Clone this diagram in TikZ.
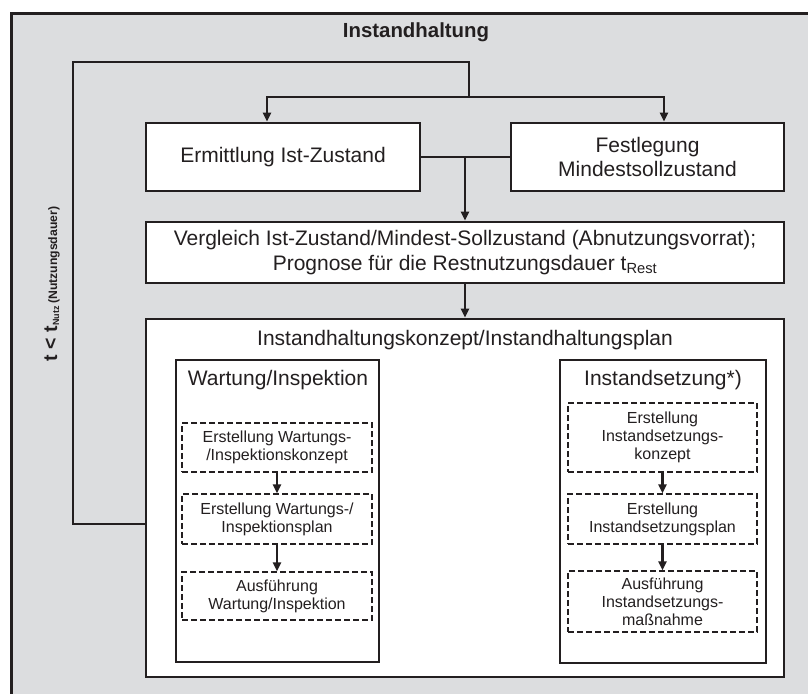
\documentclass[tikz,border=0pt]{standalone}
\usepackage{fontspec}
\setmainfont{Liberation Sans}
\usetikzlibrary{arrows.meta,calc}
\definecolor{bg}{RGB}{220,221,223}
\definecolor{ink}{RGB}{35,31,32}
\begin{document}
\begin{tikzpicture}[x=1pt,y=-1pt,
  box/.style={draw=ink,line width=2.8pt,fill=white,inner sep=0pt,align=center,text=ink,font=\fontsize{21}{24.5}\selectfont},
  dbox/.style={draw=ink,line width=1.4pt,dash pattern=on 6pt off 3pt,fill=white,inner sep=0pt,align=center,text=ink,font=\fontsize{16}{18}\selectfont},
  ttl/.style={text=ink,inner sep=0pt,font=\fontsize{21}{24.5}\selectfont},
  conn/.style={draw=ink,line width=2.8pt},
  arr/.style={conn,-{Triangle[length=9pt,width=8pt]}},
]
\useasboundingbox (0,0) rectangle (808,693);
\begin{scope}
  \clip (0,0) rectangle (808,693);
  \node[draw=ink,line width=2.8pt,fill=bg,anchor=north west,minimum width=840pt,minimum height=720pt,inner sep=0pt] (frame) at (10,12) {};
\end{scope}

\node[text=ink,inner sep=0pt,font=\bfseries\fontsize{20.4}{24}\selectfont] (title) at (416,32) {Instandhaltung};

\node[box,minimum width=274pt,minimum height=68pt] (ist) at (283,157) {Ermittlung Ist-Zustand};
\node[box,minimum width=273pt,minimum height=68pt] (soll) at (647.5,157) {Festlegung\\Mindestsollzustand};
\node[box,minimum width=638pt,minimum height=61pt] (vgl) at (465,252.5) {Vergleich Ist-Zustand/Mindest-Sollzustand (Abnutzungsvorrat);\\Prognose für die Restnutzungsdauer t\textsubscript{Rest}};

\node[box,minimum width=638pt,minimum height=358pt] (konzept) at (465,498) {};
\node[ttl] (konzepttitle) at (465,340) {Instandhaltungskonzept/Instandhaltungsplan};

\node[box,minimum width=203pt,minimum height=302pt] (wart) at (277.5,511) {};
\node[ttl] (warttitle) at (278,380) {Wartung/Inspektion};
\node[box,minimum width=206pt,minimum height=303pt] (inst) at (663,511.5) {};
\node[ttl] (insttitle) at (663,380) {Instandsetzung*)};

\node[dbox,minimum width=190pt,minimum height=49pt] (w1) at (277,447.5) {Erstellung Wartungs-\\/Inspektionskonzept};
\node[dbox,minimum width=190pt,minimum height=50pt] (w2) at (277,519) {Erstellung Wartungs-/\\Inspektionsplan};
\node[dbox,minimum width=190pt,minimum height=48pt] (w3) at (277,596) {Ausführung\\Wartung/Inspektion};

\node[dbox,minimum width=189pt,minimum height=69pt] (i1) at (662.5,437.5) {Erstellung\\Instandsetzungs-\\konzept};
\node[dbox,minimum width=189pt,minimum height=50pt] (i2) at (662.5,519) {Erstellung\\Instandsetzungsplan};
\node[dbox,minimum width=189pt,minimum height=61pt] (i3) at (662.5,601.5) {Ausführung\\Instandsetzungs-\\maßnahme};

\node[rotate=90,text=ink,inner sep=0pt,font=\bfseries] (tlabel) at (52,284)
  {{\fontsize{19.5}{20}\selectfont t < t}{\fontsize{9}{10}\selectfont\raisebox{-2pt}{Nutz}} {\fontsize{12.2}{14}\selectfont(Nutzungsdauer)}};

% connectors
\draw[conn] (ist.east) -- (soll.west);
\coordinate (j) at (465,157);
\draw[arr] (j) -- (vgl.north -| j);
\draw[arr] (vgl.south) -- (konzept.north);

\coordinate (lb) at (73,524);
\coordinate (lt) at (73,62);
\coordinate (rt) at (469,62);
\coordinate (split) at (469,97);
\coordinate (splitL) at (267,97);
\coordinate (splitR) at (664,97);
\draw[conn] (konzept.west |- lb) -- (lb) -- (lt) -- (rt) -- (split);
\draw[arr] (split) -| (ist.north -| splitL);
\draw[arr] (split) -| (soll.north -| splitR);

\draw[arr] (w1.south) -- (w2.north);
\draw[arr] (w2.south) -- (w3.north);
\draw[arr] (i1.south) -- (i2.north);
\draw[arr] (i2.south) -- (i3.north);
\end{tikzpicture}
\end{document}
